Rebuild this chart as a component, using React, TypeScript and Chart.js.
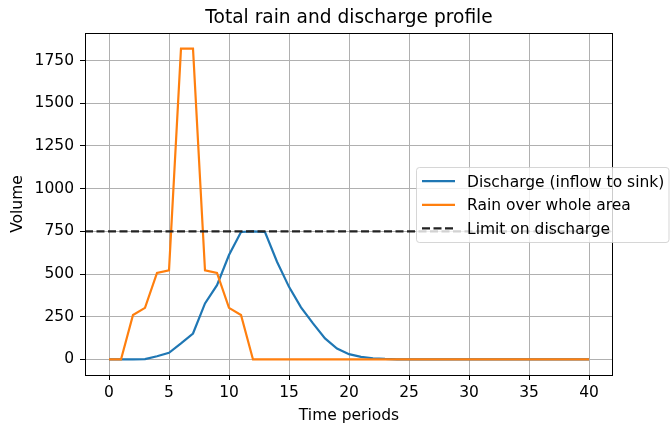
import React, { useEffect, useRef } from "react";
import { Chart, registerables } from "chart.js";

Chart.register(...registerables);

const periods = Array.from({ length: 41 }, (_, i) => i);
const discharge = [
  0, 0, 0, 2, 19, 39, 94, 152, 328, 435, 611, 746, 750, 746, 572, 425, 305, 211, 123, 64, 31,
  15, 7, 3, 1, 0, 0, 0, 0, 0, 0, 0, 0, 0, 0, 0, 0, 0, 0, 0, 0,
];
const rain = [
  0, 0, 260, 302, 507, 521, 1820, 1820, 521, 507, 302, 260, 0, 0, 0, 0, 0, 0, 0, 0, 0,
  0, 0, 0, 0, 0, 0, 0, 0, 0, 0, 0, 0, 0, 0, 0, 0, 0, 0, 0, 0,
];
const dischargeLimit = 750;
const xTicks = [0, 5, 10, 15, 20, 25, 30, 35, 40];
const yTicks = [0, 250, 500, 750, 1000, 1250, 1500, 1750];
const xRange = [-2, 42];
const yRange = [-91, 1911];

const FONT = "DejaVu Sans";

const framePlugin = {
  id: "frameAndExtras",
  afterDatasetsDraw(chart: any) {
    const { ctx, chartArea } = chart;
    ctx.save();
    ctx.strokeStyle = "#000";
    ctx.lineWidth = 1;
    ctx.strokeRect(
      Math.round(chartArea.left) + 0.5,
      Math.round(chartArea.top) + 0.5,
      Math.round(chartArea.right) - Math.round(chartArea.left) - 1,
      Math.round(chartArea.bottom) - Math.round(chartArea.top)
    );
    ctx.restore();
  },
  afterDraw(chart: any) {
    const { ctx, chartArea } = chart;
    ctx.save();
    // title
    ctx.fillStyle = "#000";
    ctx.font = `18.6px "${FONT}"`;
    ctx.textAlign = "center";
    ctx.textBaseline = "alphabetic";
    ctx.fillText("Total rain and discharge profile", (chartArea.left + chartArea.right) / 2, 23.3);

    // legend
    const bx = 416.5, by = 167.5, bw = 252.5, bh = 75, r = 3;
    ctx.beginPath();
    ctx.moveTo(bx + r, by);
    ctx.lineTo(bx + bw - r, by);
    ctx.arcTo(bx + bw, by, bx + bw, by + r, r);
    ctx.lineTo(bx + bw, by + bh - r);
    ctx.arcTo(bx + bw, by + bh, bx + bw - r, by + bh, r);
    ctx.lineTo(bx + r, by + bh);
    ctx.arcTo(bx, by + bh, bx, by + bh - r, r);
    ctx.lineTo(bx, by + r);
    ctx.arcTo(bx, by, bx + r, by, r);
    ctx.closePath();
    ctx.fillStyle = "rgba(255,255,255,0.8)";
    ctx.fill();
    ctx.strokeStyle = "rgba(204,204,204,0.8)";
    ctx.lineWidth = 1;
    ctx.stroke();

    const rows = [181.2, 204.8, 228.4];
    chart.data.datasets.forEach((ds: any, i: number) => {
      const y = rows[i];
      ctx.beginPath();
      ctx.strokeStyle = ds.borderColor;
      ctx.lineWidth = ds.borderWidth;
      ctx.setLineDash(ds.borderDash || []);
      ctx.moveTo(422, y);
      ctx.lineTo(455, y);
      ctx.stroke();
      ctx.setLineDash([]);
      ctx.fillStyle = "#000";
      ctx.font = `15.5px "${FONT}"`;
      ctx.textAlign = "left";
      ctx.textBaseline = "alphabetic";
      ctx.fillText(ds.label, 467, y + 5.5);
    });
    ctx.restore();
  },
};

export default function App() {
  const ref = useRef<HTMLCanvasElement | null>(null);
  useEffect(() => {
    document.body.style.margin = "0";
    if (!ref.current) return;
    const tickFont = { family: FONT, size: 15.5 };
    const chart = new Chart(ref.current, {
      type: "line",
      data: {
        datasets: [
          {
            label: "Discharge (inflow to sink)",
            data: periods.map((p, i) => ({ x: p, y: discharge[i] })),
            borderColor: "#1f77b4",
            backgroundColor: "#1f77b4",
            borderWidth: 2.2,
            pointRadius: 0,
            tension: 0,
            order: 3,
          },
          {
            label: "Rain over whole area",
            data: periods.map((p, i) => ({ x: p, y: rain[i] })),
            borderColor: "#ff7f0e",
            backgroundColor: "#ff7f0e",
            borderWidth: 2.2,
            pointRadius: 0,
            tension: 0,
            order: 2,
          },
          {
            label: "Limit on discharge",
            data: xRange.map((x) => ({ x, y: dischargeLimit })),
            borderColor: "#222",
            backgroundColor: "#222",
            borderWidth: 2.2,
            borderDash: [8, 3.5],
            pointRadius: 0,
            tension: 0,
            order: 1,
          },
        ],
      },
      options: {
        responsive: false,
        animation: false,
        devicePixelRatio: 1,
        layout: { padding: { left: 0, right: 59, top: 33, bottom: 0 } },
        plugins: {
          legend: { display: false },
          title: { display: false },
          tooltip: { enabled: false },
        },
        scales: {
          x: {
            type: "linear",
            min: xRange[0],
            max: xRange[1],
            afterBuildTicks: (s: any) => {
              s.ticks = xTicks.map((v) => ({ value: v }));
            },
            afterFit: (s: any) => {
              s.height = 51;
            },
            grid: { color: "#b0b0b0", lineWidth: 1, tickColor: "#000", tickLength: 5 },
            border: { display: false },
            ticks: {
              font: tickFont,
              color: "#000",
              padding: 4,
              maxRotation: 0,
              autoSkip: false,
              callback: (v: any) => String(v),
            },
            title: {
              display: true,
              text: "Time periods",
              font: tickFont,
              color: "#000",
              padding: { top: 0, bottom: 1 },
            },
          },
          y: {
            type: "linear",
            min: yRange[0],
            max: yRange[1],
            afterBuildTicks: (s: any) => {
              s.ticks = yTicks.map((v) => ({ value: v }));
            },
            afterFit: (s: any) => {
              s.width = 85;
            },
            grid: { color: "#b0b0b0", lineWidth: 1, tickColor: "#000", tickLength: 5 },
            border: { display: false },
            ticks: {
              font: tickFont,
              color: "#000",
              padding: 6,
              autoSkip: false,
              callback: (v: any) => String(v),
            },
            title: {
              display: true,
              text: "Volume",
              font: tickFont,
              color: "#000",
              padding: { top: 8.7, bottom: 0 },
            },
          },
        },
      },
      plugins: [framePlugin],
    } as any);
    return () => chart.destroy();
  }, []);
  return (
    <div style={{ width: 672, height: 426 }}>
      <canvas ref={ref} width={672} height={426} style={{ display: "block" }} />
    </div>
  );
}
